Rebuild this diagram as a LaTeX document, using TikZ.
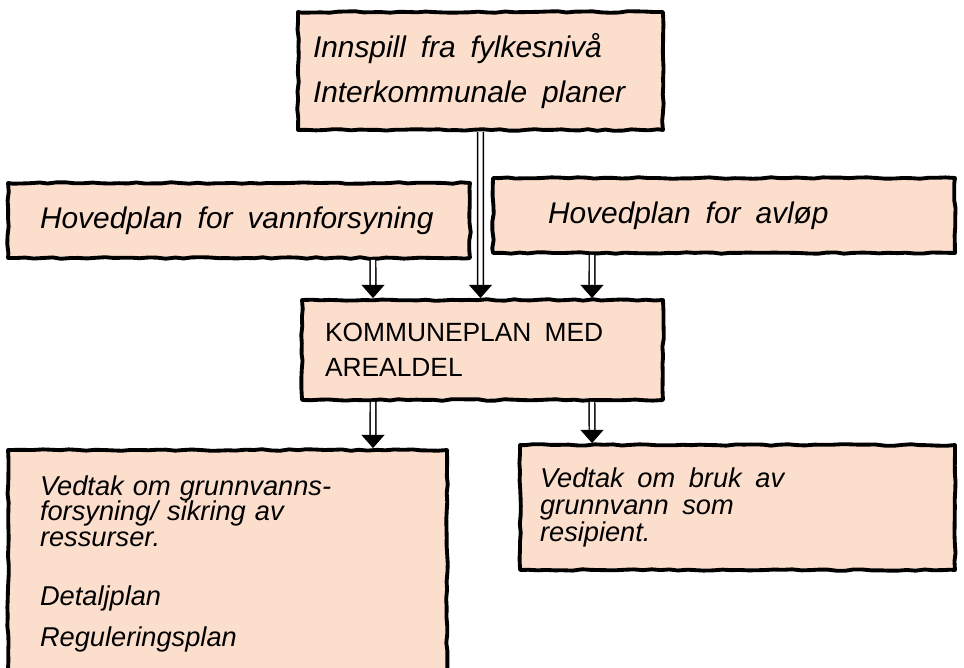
\documentclass[tikz,border=0pt]{standalone}
\usepackage{fontspec}
\setmainfont{Liberation Sans}
\usetikzlibrary{arrows.meta,decorations.pathmorphing}
\definecolor{peach}{RGB}{252,222,204}
\tikzset{
  planbox/.style={draw=black,line width=2.2pt,fill=peach,rectangle,align=left,line join=round,
    decorate,decoration={random steps,segment length=5pt,amplitude=0.45pt}},
  flow/.style={double=white,double distance=2.4pt,line width=0.8pt,-{Triangle[width=13pt,length=7.5pt]}},
  hand/.style={font=\fontsize{17}{26}\selectfont\itshape},
}
\begin{document}
\begin{tikzpicture}[x=0.02cm,y=-0.02cm]
\pgfmathsetseed{7}
\useasboundingbox (0,0) rectangle (964,667);

\node (fylke)	at (480.5,71)	[planbox,hand,minimum width=7.3cm,minimum height=2.36cm,inner xsep=0.3cm,text width=6.7cm] {Innspill\enspace fra\enspace fylkesnivå\\Interkommunale\enspace planer};
\node (vann)	at (239,220.5)	[planbox,hand,minimum width=9.24cm,minimum height=1.5cm,inner xsep=0.64cm,text width=7.96cm] {Hovedplan\enspace for\enspace vannforsyning};
\node (avlop)	at (724,215.5)	[planbox,hand,minimum width=9.24cm,minimum height=1.5cm,inner xsep=1.1cm,text width=7.04cm] {Hovedplan\enspace for\enspace avløp};
\node (kplan)	at (482.5,350)	[planbox,minimum width=7.22cm,minimum height=2.0cm,inner xsep=0.46cm,text width=6.3cm,font=\fontsize{15}{20}\selectfont] {KOMMUNEPLAN\enspace MED\\AREALDEL};
\node (vedtakA)	at (227.5,564)	[planbox,minimum width=8.78cm,minimum height=4.56cm,inner xsep=0.64cm,text width=7.5cm,font=\fontsize{15.5}{14.5}\selectfont\itshape] {Vedtak om grunnvanns-\\forsyning/ sikring av\\ressurser.\\[19pt]Detaljplan\\[9pt]Reguleringsplan};
\node (vedtakB)	at (737.5,507.5)	[planbox,minimum width=8.7cm,minimum height=2.5cm,inner xsep=0.4cm,text width=7.9cm,font=\fontsize{15.5}{15.5}\selectfont\itshape] {Vedtak\enspace om\enspace bruk\enspace av\\grunnvann\enspace som\\resipient.};

\draw [flow] ([xshift=2.68cm]vann.south) to ([xshift=-2.19cm]kplan.north);
\draw [flow] (fylke.south) to ([xshift=-0.04cm]kplan.north);
\draw [flow] ([xshift=-2.64cm]avlop.south) to ([xshift=2.19cm]kplan.north);
\draw [flow] ([xshift=-2.19cm]kplan.south) to ([xshift=2.91cm]vedtakA.north);
\draw [flow] ([xshift=2.19cm]kplan.south) to ([xshift=-2.91cm]vedtakB.north);

\end{tikzpicture}
\end{document}
